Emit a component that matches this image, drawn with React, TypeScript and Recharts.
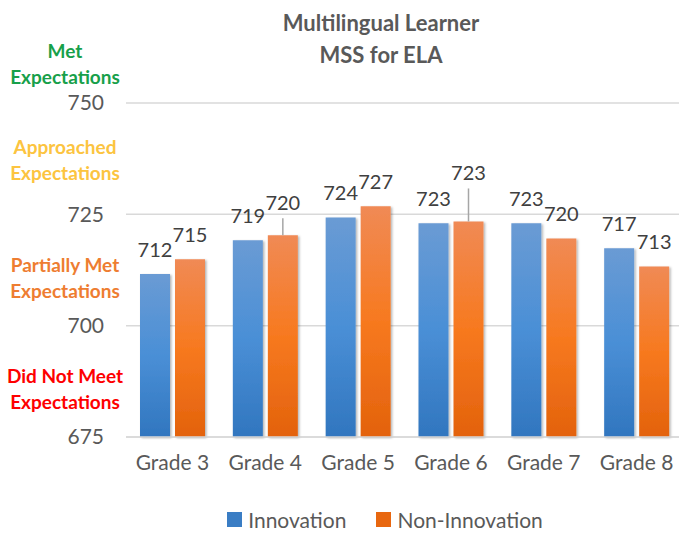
import React from 'react';
import { BarChart, Bar, XAxis, YAxis, CartesianGrid, Legend, LabelList } from 'recharts';

const grades = ['Grade 3', 'Grade 4', 'Grade 5', 'Grade 6', 'Grade 7', 'Grade 8'];
const innovation = [711.6, 719.2, 724.3, 723.0, 723.0, 717.4];
const nonInnovation = [714.9, 720.3, 726.8, 723.4, 719.6, 713.3];
const yTicks = [675, 700, 725, 750];

const bands = [
  { lines: ['Met', 'Expectations'], color: '#17a04a', top: 38 },
  { lines: ['Approached', 'Expectations'], color: '#fcc440', top: 134 },
  { lines: ['Partially Met', 'Expectations'], color: '#ee7d31', top: 252 },
  { lines: ['Did Not Meet', 'Expectations'], color: '#fe0000', top: 363 },
];

const data = grades.map((g, i) => ({
  grade: g,
  innovation: innovation[i],
  nonInnovation: nonInnovation[i],
}));

const FONT = 'Lato, "Open Sans", sans-serif';
const TEXT = '#595959';

// labels Excel nudged upward, with leader lines
const nonLift: Record<number, number> = { 1: 8, 3: 24 };

function makeLabel(lift: Record<number, number>) {
  return (props: any) => {
    const { x, y, width, value, index } = props;
    const cx = x + width / 2;
    const up = lift[index] || 0;
    const base = y - 17 - up;
    return (
      <g>
        {up > 0 && <line x1={cx} x2={cx} y1={y} y2={base + 8} stroke="#a6a6a6" strokeWidth={1.5} />}
        <text x={cx} y={base} textAnchor="middle" fontFamily={FONT} fontSize={20} fill="#404040">
          {Math.round(value)}
        </text>
      </g>
    );
  };
}

function LegendContent() {
  const items = [
    { name: 'Innovation', color: '#3a7dc4' },
    { name: 'Non-Innovation', color: '#e8670f' },
  ];
  return (
    <div style={{ display: 'flex', justifyContent: 'center', gap: 30, fontFamily: FONT, fontSize: 21, color: TEXT }}>
      {items.map((it) => (
        <div key={it.name} style={{ display: 'flex', alignItems: 'center' }}>
          <span style={{ width: 15, height: 15, background: it.color, marginRight: 6, display: 'inline-block' }} />
          {it.name}
        </div>
      ))}
    </div>
  );
}

export default function App() {
  return (
    <div style={{ position: 'absolute', left: 0, top: 0, width: 679, height: 533, overflow: 'hidden', background: '#fff' }}>
      <div style={{ position: 'absolute', left: 0, top: 0, width: 762, textAlign: 'center', fontFamily: FONT, fontWeight: 700, fontSize: 22, lineHeight: '32px', color: TEXT, paddingTop: 7 }}>
        Multilingual Learner
        <br />
        MSS for ELA
      </div>
      {bands.map((b) => (
        <div
          key={b.lines[0]}
          style={{ position: 'absolute', left: 0, width: 130, top: b.top, textAlign: 'center', fontFamily: FONT, fontWeight: 700, fontSize: 19, lineHeight: '26px', color: b.color }}
        >
          {b.lines[0]}
          <br />
          {b.lines[1]}
        </div>
      ))}
      <BarChart
        width={683}
        height={533}
        data={data}
        margin={{ top: 103, right: 0, bottom: 66, left: 0 }}
        barSize={30}
        barGap={5}
      >
        <defs>
          <linearGradient id="gBlue" x1="0" y1="0" x2="0" y2="1">
            <stop offset="0%" stopColor="#6a9bd4" />
            <stop offset="50%" stopColor="#4a8fd6" />
            <stop offset="100%" stopColor="#3176bf" />
          </linearGradient>
          <linearGradient id="gOrange" x1="0" y1="0" x2="0" y2="1">
            <stop offset="0%" stopColor="#f08a55" />
            <stop offset="50%" stopColor="#f7791f" />
            <stop offset="100%" stopColor="#e3620c" />
          </linearGradient>
          <filter id="shadow" x="-20%" y="-10%" width="140%" height="120%">
            <feDropShadow dx="1.5" dy="1" stdDeviation="1.2" floodColor="#000" floodOpacity="0.3" />
          </filter>
        </defs>
        <CartesianGrid vertical={false} stroke="#d9d9d9" strokeWidth={1.5} />
        <XAxis
          dataKey="grade"
          axisLine={{ stroke: '#d9d9d9', strokeWidth: 1.5 }}
          tickLine={false}
          tickSize={0}
          tickMargin={18}
          tick={{ fill: TEXT, fontSize: 21, fontFamily: FONT }}
          height={30}
          interval={0}
        />
        <YAxis
          domain={[675, 750]}
          ticks={yTicks}
          width={126}
          axisLine={false}
          tickLine={false}
          tickSize={0}
          tickMargin={22}
          tick={{ fill: TEXT, fontSize: 21, fontFamily: FONT }}
        />
        <Legend
          verticalAlign="middle"
          align="center"
          layout="horizontal"
          content={<LegendContent />}
          wrapperStyle={{ top: 507, left: 0, width: 770 }}
        />
        <Bar dataKey="innovation" name="Innovation" fill="url(#gBlue)" filter="url(#shadow)" isAnimationActive={false}>
          <LabelList dataKey="innovation" content={makeLabel({})} />
        </Bar>
        <Bar dataKey="nonInnovation" name="Non-Innovation" fill="url(#gOrange)" filter="url(#shadow)" isAnimationActive={false}>
          <LabelList dataKey="nonInnovation" content={makeLabel(nonLift)} />
        </Bar>
      </BarChart>
    </div>
  );
}
